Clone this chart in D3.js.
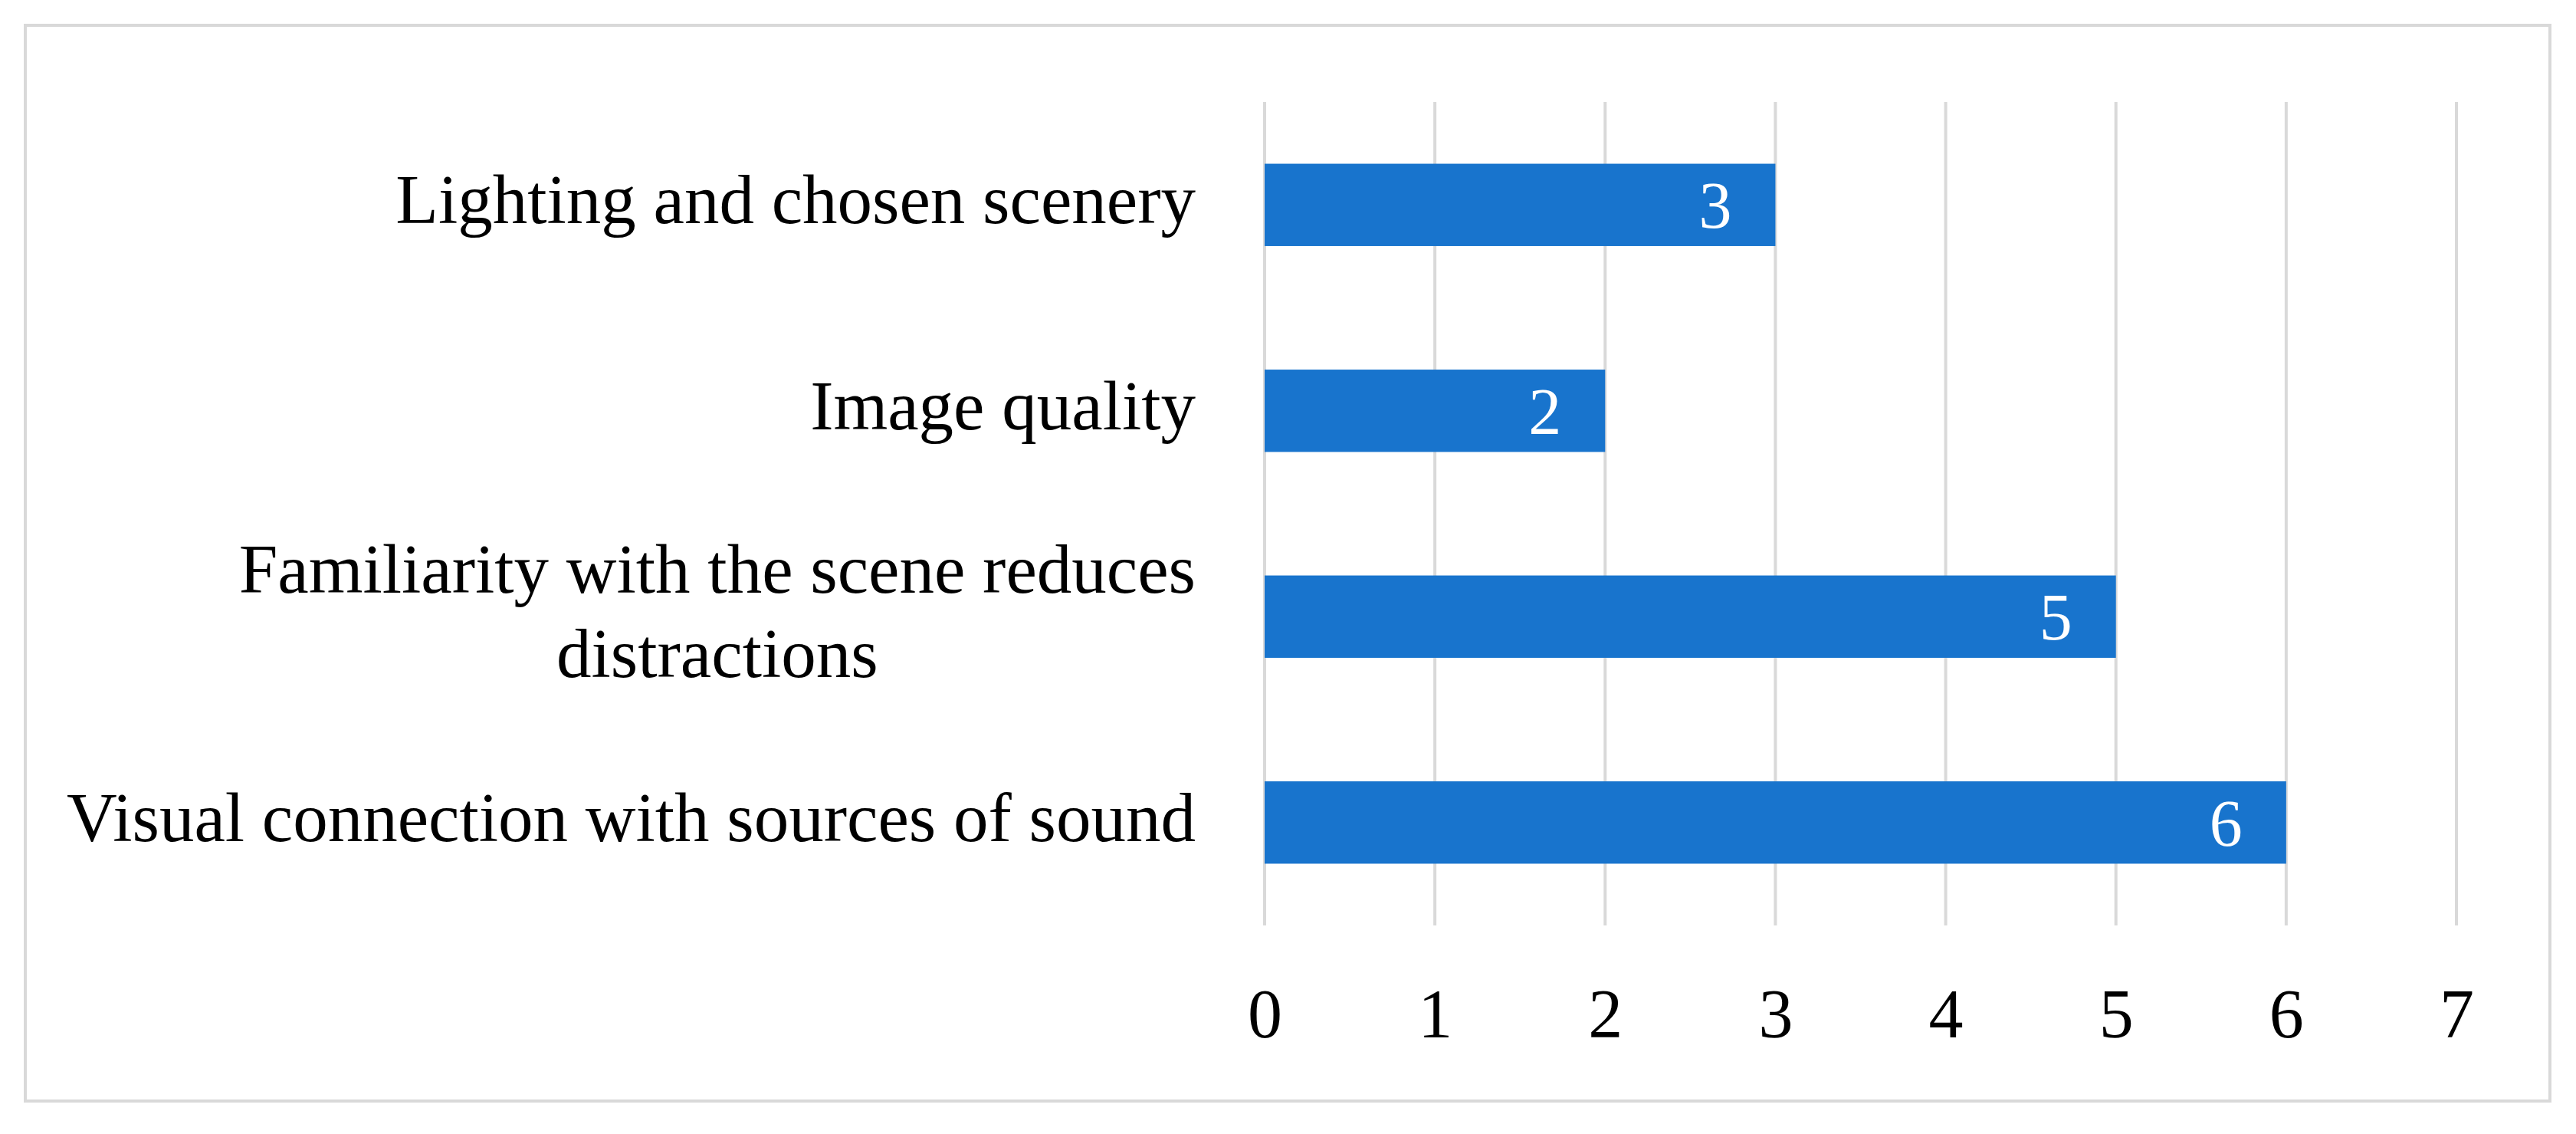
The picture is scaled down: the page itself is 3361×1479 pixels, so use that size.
<!DOCTYPE html>
<html>
<head>
<meta charset="utf-8">
<script src="https://cdn.jsdelivr.net/npm/d3@7"></script>
<style>
  body { margin: 0; background: #fff; }
  text { font-family: "Liberation Serif", "Times New Roman", serif; }
</style>
</head>
<body>
<script>
const width = 3361;
const height = 1479;

// category labels, already split where the original wraps them
const categories = [
  ["Lighting and chosen scenery"],
  ["Image quality"],
  ["Familiarity with the scene reduces", "distractions"],
  ["Visual connection with sources of sound"],
];
const values = [3, 2, 5, 6];
const xTicks = [0, 1, 2, 3, 4, 5, 6, 7];

const plot = { left: 1650, right: 3205, top: 133, bottom: 1207 };

const svg = d3
  .select("body")
  .append("svg")
  .attr("width", width)
  .attr("height", height)
  .attr("viewBox", [0, 0, width, height]);

// outer frame
svg
  .append("rect")
  .attr("x", 33)
  .attr("y", 33)
  .attr("width", 3294)
  .attr("height", 1403)
  .attr("fill", "#fff")
  .attr("stroke", "#d9d9d9")
  .attr("stroke-width", 4);

const x = d3.scaleLinear().domain([0, 7]).range([plot.left, plot.right]);

const y = d3
  .scaleBand()
  .domain(d3.range(categories.length))
  .range([plot.top, plot.bottom])
  .paddingInner(0.6)
  .paddingOuter(0.3);

// vertical gridlines
svg
  .append("g")
  .selectAll("line")
  .data(xTicks)
  .join("line")
  .attr("x1", (d) => x(d))
  .attr("x2", (d) => x(d))
  .attr("y1", plot.top)
  .attr("y2", plot.bottom)
  .attr("stroke", "#d9d9d9")
  .attr("stroke-width", 4);

// x axis, labels only
const xAxis = (g) =>
  g
    .attr("transform", `translate(0,1353)`)
    .call(
      d3
        .axisBottom(x)
        .tickValues(xTicks)
        .tickFormat(d3.format("d"))
        .tickSize(0)
        .tickPadding(0)
    )
    .call((g) => g.select(".domain").remove())
    .call((g) =>
      g
        .selectAll("text")
        .attr("dy", 0)
        .attr("fill", "#000")
        .style("font-size", "90px")
        .style("font-family", '"Liberation Serif", serif')
    );

svg.append("g").call(xAxis);

// bars
svg
  .append("g")
  .selectAll("rect")
  .data(values)
  .join("rect")
  .attr("x", x(0))
  .attr("y", (d, i) => y(i))
  .attr("width", (d) => x(d) - x(0))
  .attr("height", y.bandwidth())
  .attr("fill", "#1874cd");

// value labels inside the bar end
svg
  .append("g")
  .selectAll("text")
  .data(values)
  .join("text")
  .attr("x", (d) => x(d) - 57)
  .attr("y", (d, i) => y(i) + y.bandwidth() / 2 + 30)
  .attr("text-anchor", "end")
  .attr("fill", "#fff")
  .style("font-size", "86px")
  .text((d) => d);

// category labels: block right-aligned, lines centred inside it
const labelRight = 1560;
const lineHeight = 110;

const label = svg
  .append("g")
  .selectAll("text")
  .data(categories)
  .join("text")
  .attr("fill", "#000")
  .style("font-size", "91px");

label.each(function (lines, i) {
  const t = d3.select(this);
  const cy = y(i) + y.bandwidth() / 2 + 24;
  const y0 = cy - ((lines.length - 1) * lineHeight) / 2;
  const spans = t
    .selectAll("tspan")
    .data(lines)
    .join("tspan")
    .attr("y", (d, k) => y0 + k * lineHeight)
    .text((d) => d);
  const widest = d3.max(spans.nodes(), (n) => n.getComputedTextLength());
  t.attr("text-anchor", "middle");
  spans.attr("x", labelRight - widest / 2);
});
</script>
</body>
</html>
